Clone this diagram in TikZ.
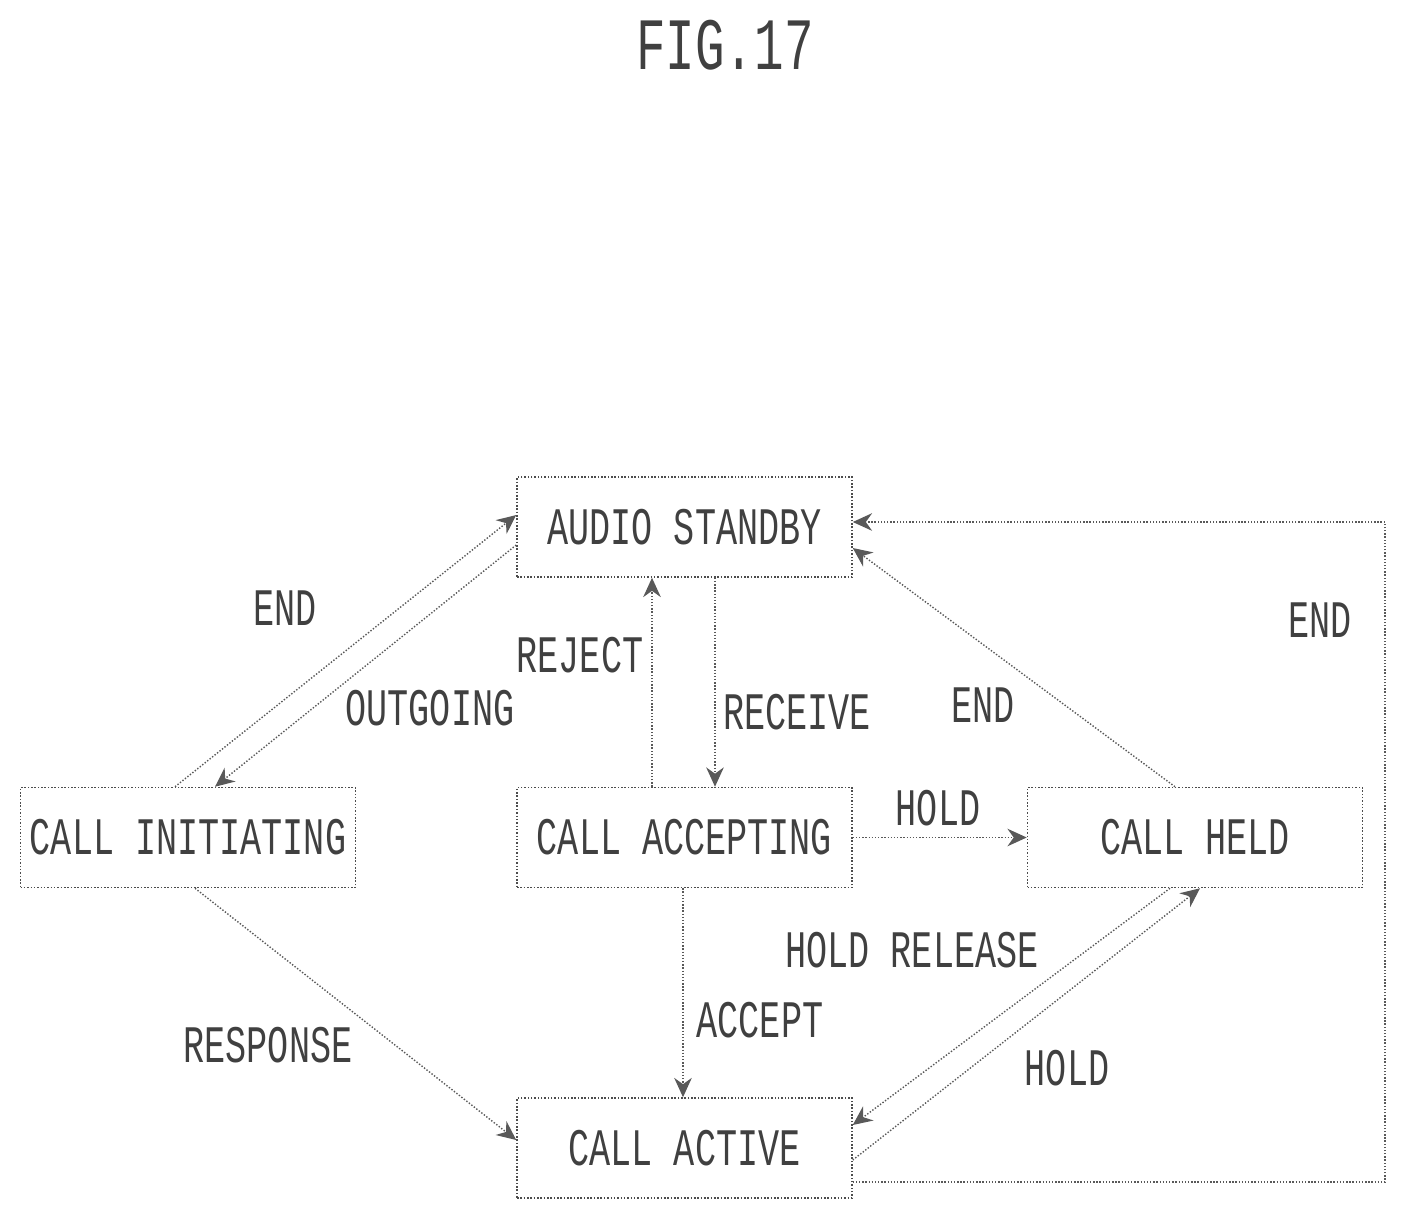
\documentclass[tikz,border=0pt]{standalone}
\usepackage{fontspec}
\setmainfont{Liberation Mono}
\usetikzlibrary{arrows.meta}
\newcommand\lbl[1]{\scalebox{1}[1.5]{#1}}
\begin{document}
\begin{tikzpicture}[x=0.02cm,y=-0.02cm,
 box/.style={draw=black!70,densely dotted,line width=0.9pt,minimum width=6.7cm,minimum height=2cm,inner sep=0,font=\fontsize{20}{20}\selectfont,text=black!75},
 lab/.style={font=\fontsize{20}{20}\selectfont,text=black!75},
 con/.style={draw=black!65,densely dotted,line width=0.8pt,-{Stealth[length=11pt,width=10pt]}}]
\useasboundingbox (0,0) rectangle (1420,1227);
\node[lab,font=\fontsize{28}{28}\selectfont] (t) at (725,45) {\lbl{FIG.17}};
\node[box] (as) at (684.5,527) {\lbl{AUDIO STANDBY}};
\node[box] (ci) at (188,837.5) {\lbl{CALL INITIATING}};
\node[box] (ca) at (684.5,837.5) {\lbl{CALL ACCEPTING}};
\node[box] (ch) at (1195,837.5) {\lbl{CALL HELD}};
\node[box] (ac) at (684.5,1148) {\lbl{CALL ACTIVE}};
\coordinate (r1) at (1385,1182);
\coordinate (r2) at (1385,522);
\draw[con] (ci.north -| 175,0) -- (as.west |- 0,515);
\draw[con] (as.west |- 0,545) -- (ci.north -| 215,0);
\draw[con] (ca.north -| 652,0) -- (as.south -| 652,0);
\draw[con] (as.south -| 715,0) -- (ca.north -| 715,0);
\draw[con] (ca.east) -- (ch.west);
\draw[con] (ch.north -| 1175,0) -- (as.east |- 0,548);
\draw[con] (ac.east |- r1) -- (r1) -- (r2) -- (as.east |- r2);
\draw[con] (ch.south -| 1170,0) -- (ac.east |- 0,1125);
\draw[con] (ac.east |- 0,1160) -- (ch.south -| 1200,0);
\draw[con] (ci.south -| 195,0) -- (ac.west |- 0,1140);
\draw[con] (ca.south -| 683,0) -- (ac.north -| 683,0);
\node[lab] (l1) at (285,608) {\lbl{END}};
\node[lab] (l2) at (430,708) {\lbl{OUTGOING}};
\node[lab] (l3) at (580,655) {\lbl{REJECT}};
\node[lab] (l4) at (797,712) {\lbl{RECEIVE}};
\node[lab] (l5) at (983,705) {\lbl{END}};
\node[lab] (l6) at (1320,620) {\lbl{END}};
\node[lab] (l7) at (938,808) {\lbl{HOLD}};
\node[lab] (l8) at (912,950) {\lbl{HOLD RELEASE}};
\node[lab] (l9) at (760,1020) {\lbl{ACCEPT}};
\node[lab] (l10) at (268,1045) {\lbl{RESPONSE}};
\node[lab] (l11) at (1067,1068) {\lbl{HOLD}};
\end{tikzpicture}
\end{document}
